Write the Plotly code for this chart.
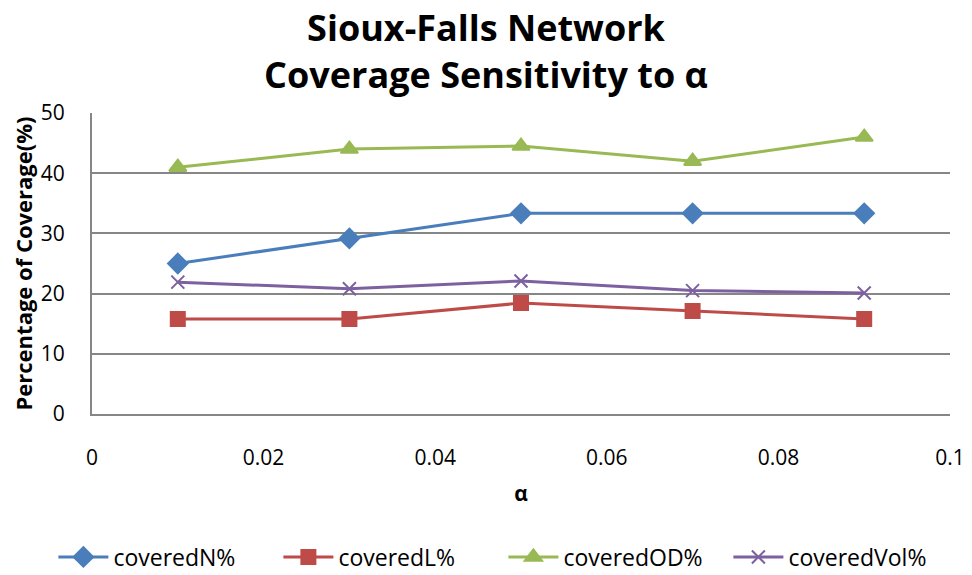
import plotly.graph_objects as go

# alpha values on the x axis
alpha = [0.01, 0.03, 0.05, 0.07, 0.09]

# coverage percentages
covered_n = [25.0, 29.17, 33.33, 33.33, 33.33]
covered_l = [15.79, 15.79, 18.42, 17.11, 15.79]
covered_od = [41.0, 44.0, 44.5, 42.0, 46.0]
covered_vol = [21.9, 20.8, 22.1, 20.5, 20.1]

x_ticks = [0, 0.02, 0.04, 0.06, 0.08, 0.1]
x_tick_text = ["0", "0.02", "0.04", "0.06", "0.08", "0.1"]
y_ticks = [0, 10, 20, 30, 40, 50]

FONT = "Open Sans"
GRID = "#868686"

series = [
    ("coveredN%", covered_n, "#4A7EBB", "diamond", 15),
    ("coveredL%", covered_l, "#BE4B48", "square", 14),
    ("coveredOD%", covered_od, "#98B954", "triangle-up", 15),
    ("coveredVol%", covered_vol, "#7D60A0", "x-thin", 13),
]

fig = go.Figure()
for name, vals, color, symbol, size in series:
    fig.add_trace(go.Scatter(
        x=alpha, y=vals, mode="lines+markers", name=name,
        line=dict(color=color, width=3),
        marker=dict(symbol=symbol, size=size, color=color,
                    line=dict(color=color, width=2)),
    ))

fig.update_layout(
    width=972, height=575,
    margin=dict(l=92, r=22, t=113, b=161, autoexpand=False),
    paper_bgcolor="white", plot_bgcolor="white",
    font=dict(family=FONT, color="black"),
    title=dict(
        text="<b>Sioux-Falls Network</b><br><b>Coverage Sensitivity to α</b>",
        x=0.5, xanchor="center", y=0.928, yanchor="middle",
        font=dict(family=FONT, size=36, color="black"),
    ),
    showlegend=True,
    legend=dict(
        orientation="h", x=-0.045, xanchor="left", y=-0.475, yanchor="middle",
        font=dict(family=FONT, size=23, color="black"),
        itemwidth=50, entrywidth=160, entrywidthmode="pixels",
    ),
)

fig.update_xaxes(
    range=[0, 0.1], tickvals=x_ticks, ticktext=x_tick_text,
    showgrid=False, zeroline=False, automargin=False,
    showline=True, linecolor=GRID, linewidth=2,
    ticks="", ticklabelstandoff=24,
    tickfont=dict(family=FONT, size=21, color="black"),
    title=dict(text="<b>α</b>", standoff=16,
               font=dict(family=FONT, size=21, color="black")),
)
fig.update_yaxes(
    range=[0, 50], tickvals=y_ticks,
    showgrid=True, gridcolor=GRID, gridwidth=1.5, automargin=False,
    zeroline=False, showline=True, linecolor=GRID, linewidth=2,
    ticks="", ticklabelstandoff=21,
    tickfont=dict(family=FONT, size=21, color="black"),
    title=dict(text="<b>Percentage of Coverage(%)</b>", standoff=2,
               font=dict(family=FONT, size=22, color="black")),
)

# drop the default page margin so the figure sits at the window's corner
fig.write_html("out.html", config={"displayModeBar": False},
               post_script="document.body.style.margin='0';")
